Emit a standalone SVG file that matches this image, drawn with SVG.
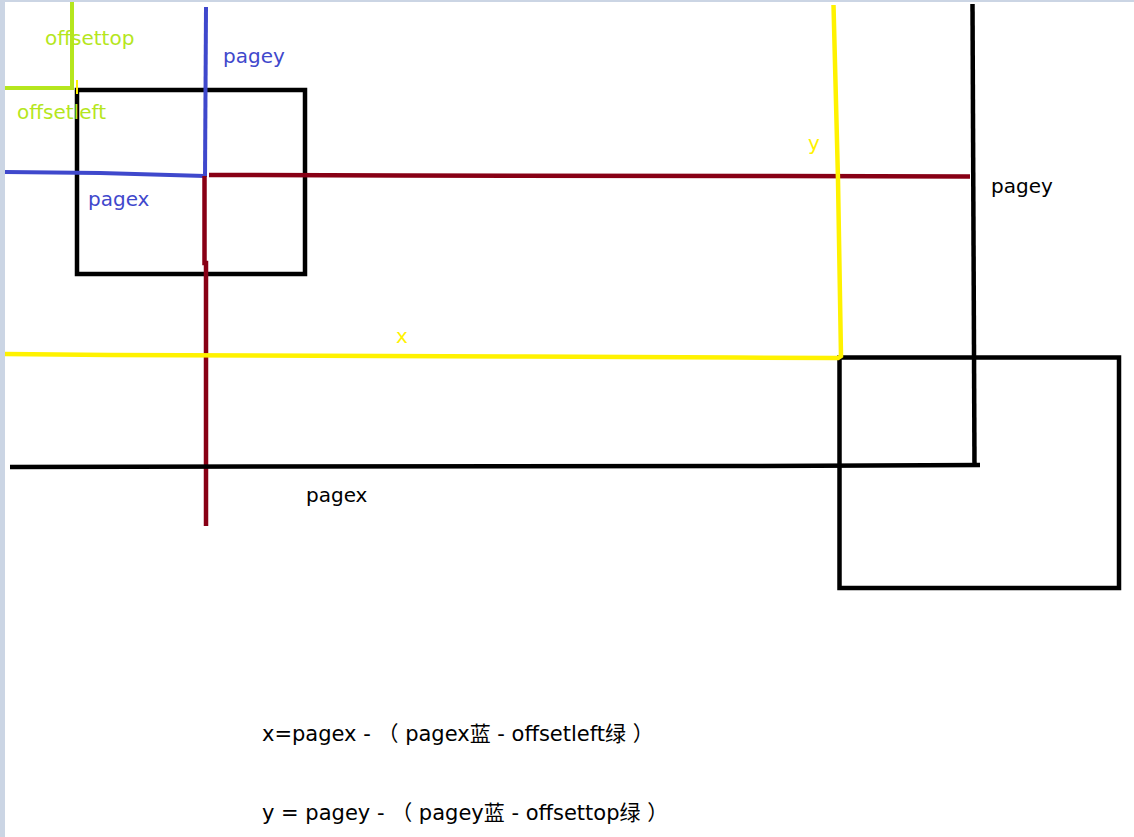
<svg xmlns="http://www.w3.org/2000/svg" width="1134" height="837" viewBox="0 0 1134 837">
<style>
text{font-family:"DejaVu Sans","Noto Sans CJK SC",sans-serif;font-size:20px}
.formula{font-size:21px}
.lbl-green{fill:#b5e61d}
.lbl-blue{fill:#3f48cc}
.lbl-yellow{fill:#fff200}
.lbl-black{fill:#000}
.box{fill:none;stroke:#000;stroke-width:4.5}
.ln{fill:none;stroke-linecap:butt;stroke-linejoin:miter}
.green{stroke:#b5e61d;stroke-width:4}
.blue{stroke:#3f48cc;stroke-width:4}
.red{stroke:#880015;stroke-width:4.5}
.yellow{stroke:#fff200;stroke-width:4.5}
.black{stroke:#000;stroke-width:4.5}
</style>
<rect x="0" y="0" width="1134" height="837" fill="#ffffff"/>
<rect x="0" y="0" width="5" height="837" fill="#cbd5e4"/>
<rect x="0" y="0" width="1134" height="2" fill="#cbd5e4"/>

<g id="box-element">
<rect class="box" x="77" y="90" width="228" height="184"/>
</g>
<g id="box-mouse">
<rect class="box" x="839.5" y="357.5" width="279.5" height="230.5"/>
</g>

<g id="connectors">
<polyline id="green-offset" class="ln green" points="72,2 72,88 5,88"/>
<line class="ln" x1="77" y1="80" x2="77" y2="94" stroke="#fff200" stroke-width="2"/>
<line id="blue-pagey" class="ln blue" x1="206" y1="7" x2="205" y2="177"/>
<polyline id="blue-pagex" class="ln blue" points="5,172 100,173 205,176"/>
<polyline id="red-h" class="ln red" points="209,175 400,175.5 780,176 970,176.5"/>
<polyline id="red-v" class="ln red" points="204.5,176 204.5,263 206,263 206,526"/>
<polyline id="yellow-xy" class="ln yellow" points="5,354 110,355 525,356.5 735,357.5 838,358 841,356 838,180 833.5,5"/>
<line id="black-pagey" class="ln black" x1="972.5" y1="4" x2="974.5" y2="466"/>
<polyline id="black-pagex" class="ln black" points="10,467 253,466.5 737,466 980,465"/>
</g>

<g id="label-offsettop"><text class="lbl-green" x="45" y="45">offsettop</text></g>
<g id="label-offsetleft"><text class="lbl-green" x="17" y="119">offsetleft</text></g>
<g id="label-pagey-blue"><text class="lbl-blue" x="223" y="63">pagey</text></g>
<g id="label-pagex-blue"><text class="lbl-blue" x="88" y="206">pagex</text></g>
<g id="label-x"><text class="lbl-yellow" x="396" y="343">x</text></g>
<g id="label-y"><text class="lbl-yellow" x="808" y="150">y</text></g>
<g id="label-pagey-black"><text class="lbl-black" x="991" y="193">pagey</text></g>
<g id="label-pagex-black"><text class="lbl-black" x="306" y="502">pagex</text></g>
<g id="formula-x"><text class="lbl-black formula" x="262" y="741">x=pagex - （ pagex蓝 - offsetleft绿 ）</text></g>
<g id="formula-y"><text class="lbl-black formula" x="262" y="820">y = pagey - （ pagey蓝 - offsettop绿 ）</text></g>
</svg>
